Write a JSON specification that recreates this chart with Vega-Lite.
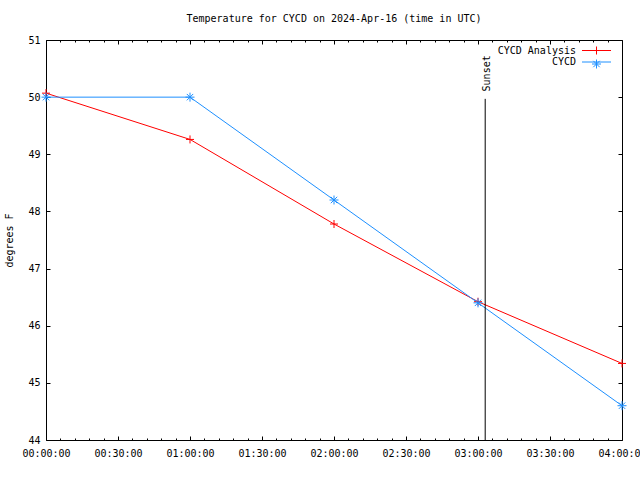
{
  "$schema": "https://vega.github.io/schema/vega-lite/v6.json",
  "width": 576,
  "height": 400,
  "autosize": {"type": "none"},
  "padding": {"left": 46, "top": 40, "right": 18, "bottom": 40},
  "background": "white",
  "title": {"text": "Temperature for CYCD on 2024-Apr-16 (time in UTC)", "fontSize": 10, "fontWeight": "normal", "font": "DejaVu Sans Mono", "anchor": "middle", "offset": 11, "color": "black"},
  "config": {
    "font": "DejaVu Sans Mono",
    "view": {"stroke": "black", "strokeWidth": 1},
    "axis": {"domain": false, "grid": false, "ticks": true, "labelFont": "DejaVu Sans Mono", "labelFontSize": 10, "labelColor": "black", "tickColor": "black", "tickWidth": 1, "tickOpacity": 1, "titleFont": "DejaVu Sans Mono", "titleFontSize": 10, "titleFontWeight": "normal", "titleColor": "black"}
  },
  "data": {"values": [
    {"series": "CYCD Analysis", "time": "2024-04-16T00:00:00", "temp": 50.07},
    {"series": "CYCD Analysis", "time": "2024-04-16T01:00:00", "temp": 49.26},
    {"series": "CYCD Analysis", "time": "2024-04-16T02:00:00", "temp": 47.78},
    {"series": "CYCD Analysis", "time": "2024-04-16T03:00:00", "temp": 46.42},
    {"series": "CYCD Analysis", "time": "2024-04-16T04:00:00", "temp": 45.34},
    {"series": "CYCD", "time": "2024-04-16T00:00:00", "temp": 50.0},
    {"series": "CYCD", "time": "2024-04-16T01:00:00", "temp": 50.0},
    {"series": "CYCD", "time": "2024-04-16T02:00:00", "temp": 48.2},
    {"series": "CYCD", "time": "2024-04-16T03:00:00", "temp": 46.4},
    {"series": "CYCD", "time": "2024-04-16T04:00:00", "temp": 44.6}
  ]},
  "resolve": {"axis": {"x": "independent", "y": "independent"}},
  "layer": [
    {
      "mark": {"type": "line", "strokeWidth": 1},
      "encoding": {
        "x": {"field": "time", "type": "temporal",
              "scale": {"domain": [{"year": 2024, "month": 4, "date": 16, "hours": 0}, {"year": 2024, "month": 4, "date": 16, "hours": 4}]},
              "axis": {"orient": "bottom", "title": null, "format": "%H:%M:%S",
                       "values": [
                         {"year": 2024, "month": 4, "date": 16, "hours": 0, "minutes": 0},
                         {"year": 2024, "month": 4, "date": 16, "hours": 0, "minutes": 30},
                         {"year": 2024, "month": 4, "date": 16, "hours": 1, "minutes": 0},
                         {"year": 2024, "month": 4, "date": 16, "hours": 1, "minutes": 30},
                         {"year": 2024, "month": 4, "date": 16, "hours": 2, "minutes": 0},
                         {"year": 2024, "month": 4, "date": 16, "hours": 2, "minutes": 30},
                         {"year": 2024, "month": 4, "date": 16, "hours": 3, "minutes": 0},
                         {"year": 2024, "month": 4, "date": 16, "hours": 3, "minutes": 30},
                         {"year": 2024, "month": 4, "date": 16, "hours": 4, "minutes": 0}
                       ],
                       "offset": -4, "tickSize": 4, "labelPadding": 8, "labelFlush": false, "labelOverlap": false}},
        "y": {"field": "temp", "type": "quantitative", "scale": {"domain": [44, 51], "nice": false, "zero": false},
              "axis": {"orient": "left", "title": "degrees F", "values": [44, 45, 46, 47, 48, 49, 50, 51], "offset": -4, "tickSize": 4, "labelPadding": 6, "titlePadding": 13}},
        "stroke": {"field": "series", "type": "nominal", "sort": "descending",
                   "scale": {"range": ["#ff0000", "#1e90ff"]},
                   "legend": {"title": null, "orient": "none", "legendX": 545, "legendY": 5, "labelAlign": "right", "labelOffset": -26, "symbolType": "M-2.9,0L2.9,0", "symbolSize": 100, "symbolStrokeWidth": 1, "rowPadding": 0.5, "labelFontSize": 10, "labelFont": "DejaVu Sans Mono", "labelColor": "black", "padding": 0, "symbolOffset": 0}}
      }
    },
    {
      "mark": {"type": "point", "filled": false, "strokeWidth": 1, "size": 100, "opacity": 1},
      "encoding": {
        "x": {"field": "time", "type": "temporal",
              "axis": {"orient": "bottom", "title": null, "labels": false, "offset": -2, "tickSize": 2,
                       "values": [
                         {"year": 2024, "month": 4, "date": 16, "hours": 0, "minutes": 6},
                         {"year": 2024, "month": 4, "date": 16, "hours": 0, "minutes": 12},
                         {"year": 2024, "month": 4, "date": 16, "hours": 0, "minutes": 18},
                         {"year": 2024, "month": 4, "date": 16, "hours": 0, "minutes": 24},
                         {"year": 2024, "month": 4, "date": 16, "hours": 0, "minutes": 36},
                         {"year": 2024, "month": 4, "date": 16, "hours": 0, "minutes": 42},
                         {"year": 2024, "month": 4, "date": 16, "hours": 0, "minutes": 48},
                         {"year": 2024, "month": 4, "date": 16, "hours": 0, "minutes": 54},
                         {"year": 2024, "month": 4, "date": 16, "hours": 1, "minutes": 6},
                         {"year": 2024, "month": 4, "date": 16, "hours": 1, "minutes": 12},
                         {"year": 2024, "month": 4, "date": 16, "hours": 1, "minutes": 18},
                         {"year": 2024, "month": 4, "date": 16, "hours": 1, "minutes": 24},
                         {"year": 2024, "month": 4, "date": 16, "hours": 1, "minutes": 36},
                         {"year": 2024, "month": 4, "date": 16, "hours": 1, "minutes": 42},
                         {"year": 2024, "month": 4, "date": 16, "hours": 1, "minutes": 48},
                         {"year": 2024, "month": 4, "date": 16, "hours": 1, "minutes": 54},
                         {"year": 2024, "month": 4, "date": 16, "hours": 2, "minutes": 6},
                         {"year": 2024, "month": 4, "date": 16, "hours": 2, "minutes": 12},
                         {"year": 2024, "month": 4, "date": 16, "hours": 2, "minutes": 18},
                         {"year": 2024, "month": 4, "date": 16, "hours": 2, "minutes": 24},
                         {"year": 2024, "month": 4, "date": 16, "hours": 2, "minutes": 36},
                         {"year": 2024, "month": 4, "date": 16, "hours": 2, "minutes": 42},
                         {"year": 2024, "month": 4, "date": 16, "hours": 2, "minutes": 48},
                         {"year": 2024, "month": 4, "date": 16, "hours": 2, "minutes": 54},
                         {"year": 2024, "month": 4, "date": 16, "hours": 3, "minutes": 6},
                         {"year": 2024, "month": 4, "date": 16, "hours": 3, "minutes": 12},
                         {"year": 2024, "month": 4, "date": 16, "hours": 3, "minutes": 18},
                         {"year": 2024, "month": 4, "date": 16, "hours": 3, "minutes": 24},
                         {"year": 2024, "month": 4, "date": 16, "hours": 3, "minutes": 36},
                         {"year": 2024, "month": 4, "date": 16, "hours": 3, "minutes": 42},
                         {"year": 2024, "month": 4, "date": 16, "hours": 3, "minutes": 48},
                         {"year": 2024, "month": 4, "date": 16, "hours": 3, "minutes": 54}
                       ]}},
        "y": {"field": "temp", "type": "quantitative",
              "axis": {"orient": "right", "title": null, "labels": false, "values": [44, 45, 46, 47, 48, 49, 50, 51], "offset": -4, "tickSize": 4}},
        "color": {"field": "series", "type": "nominal",
                  "scale": {"domain": ["CYCD Analysis", "CYCD"], "range": ["#ff0000", "#1e90ff"]},
                  "legend": {"title": null, "orient": "none", "legendX": 545, "legendY": 5, "labelExpr": "''", "labelOpacity": 0, "symbolSize": 100, "symbolStrokeWidth": 1, "rowPadding": 0.5, "labelFontSize": 10, "labelFont": "DejaVu Sans Mono", "padding": 0, "symbolOffset": 0}},
        "shape": {"field": "series", "type": "nominal",
                  "scale": {"domain": ["CYCD Analysis", "CYCD"], "range": ["M-0.8,0L0.8,0M0,-0.8L0,0.8", "M-0.9,0L0.9,0M0,-0.9L0,0.9M-0.64,-0.64L0.64,0.64M-0.64,0.64L0.64,-0.64"]},
                  "legend": {"title": null, "orient": "none", "legendX": 545, "legendY": 5, "labelExpr": "''", "labelOpacity": 0, "symbolSize": 100, "symbolStrokeWidth": 1, "rowPadding": 0.5, "labelFontSize": 10, "labelFont": "DejaVu Sans Mono", "padding": 0, "symbolOffset": 0}}
      }
    },
    {
      "data": {"values": [{"event": "Sunset", "time": "2024-04-16T03:03:00"}]},
      "mark": {"type": "rule", "color": "black", "strokeWidth": 1},
      "encoding": {
        "x": {"field": "time", "type": "temporal",
              "axis": {"orient": "top", "title": null, "labels": false, "offset": -4, "tickSize": 4,
                       "values": [
                         {"year": 2024, "month": 4, "date": 16, "hours": 0, "minutes": 0},
                         {"year": 2024, "month": 4, "date": 16, "hours": 0, "minutes": 30},
                         {"year": 2024, "month": 4, "date": 16, "hours": 1, "minutes": 0},
                         {"year": 2024, "month": 4, "date": 16, "hours": 1, "minutes": 30},
                         {"year": 2024, "month": 4, "date": 16, "hours": 2, "minutes": 0},
                         {"year": 2024, "month": 4, "date": 16, "hours": 2, "minutes": 30},
                         {"year": 2024, "month": 4, "date": 16, "hours": 3, "minutes": 0},
                         {"year": 2024, "month": 4, "date": 16, "hours": 3, "minutes": 30},
                         {"year": 2024, "month": 4, "date": 16, "hours": 4, "minutes": 0}
                       ]}},
        "y": {"datum": 44, "type": "quantitative", "axis": null},
        "y2": {"datum": 49.97}
      }
    },
    {
      "data": {"values": [{"event": "Sunset", "time": "2024-04-16T03:03:00"}]},
      "mark": {"type": "text", "angle": 270, "align": "left", "baseline": "middle", "dy": 2, "fontSize": 10, "color": "black"},
      "encoding": {
        "x": {"field": "time", "type": "temporal",
              "axis": {"orient": "top", "title": null, "labels": false, "offset": -2, "tickSize": 2,
                       "values": [
                         {"year": 2024, "month": 4, "date": 16, "hours": 0, "minutes": 6},
                         {"year": 2024, "month": 4, "date": 16, "hours": 0, "minutes": 12},
                         {"year": 2024, "month": 4, "date": 16, "hours": 0, "minutes": 18},
                         {"year": 2024, "month": 4, "date": 16, "hours": 0, "minutes": 24},
                         {"year": 2024, "month": 4, "date": 16, "hours": 0, "minutes": 36},
                         {"year": 2024, "month": 4, "date": 16, "hours": 0, "minutes": 42},
                         {"year": 2024, "month": 4, "date": 16, "hours": 0, "minutes": 48},
                         {"year": 2024, "month": 4, "date": 16, "hours": 0, "minutes": 54},
                         {"year": 2024, "month": 4, "date": 16, "hours": 1, "minutes": 6},
                         {"year": 2024, "month": 4, "date": 16, "hours": 1, "minutes": 12},
                         {"year": 2024, "month": 4, "date": 16, "hours": 1, "minutes": 18},
                         {"year": 2024, "month": 4, "date": 16, "hours": 1, "minutes": 24},
                         {"year": 2024, "month": 4, "date": 16, "hours": 1, "minutes": 36},
                         {"year": 2024, "month": 4, "date": 16, "hours": 1, "minutes": 42},
                         {"year": 2024, "month": 4, "date": 16, "hours": 1, "minutes": 48},
                         {"year": 2024, "month": 4, "date": 16, "hours": 1, "minutes": 54},
                         {"year": 2024, "month": 4, "date": 16, "hours": 2, "minutes": 6},
                         {"year": 2024, "month": 4, "date": 16, "hours": 2, "minutes": 12},
                         {"year": 2024, "month": 4, "date": 16, "hours": 2, "minutes": 18},
                         {"year": 2024, "month": 4, "date": 16, "hours": 2, "minutes": 24},
                         {"year": 2024, "month": 4, "date": 16, "hours": 2, "minutes": 36},
                         {"year": 2024, "month": 4, "date": 16, "hours": 2, "minutes": 42},
                         {"year": 2024, "month": 4, "date": 16, "hours": 2, "minutes": 48},
                         {"year": 2024, "month": 4, "date": 16, "hours": 2, "minutes": 54},
                         {"year": 2024, "month": 4, "date": 16, "hours": 3, "minutes": 6},
                         {"year": 2024, "month": 4, "date": 16, "hours": 3, "minutes": 12},
                         {"year": 2024, "month": 4, "date": 16, "hours": 3, "minutes": 18},
                         {"year": 2024, "month": 4, "date": 16, "hours": 3, "minutes": 24},
                         {"year": 2024, "month": 4, "date": 16, "hours": 3, "minutes": 36},
                         {"year": 2024, "month": 4, "date": 16, "hours": 3, "minutes": 42},
                         {"year": 2024, "month": 4, "date": 16, "hours": 3, "minutes": 48},
                         {"year": 2024, "month": 4, "date": 16, "hours": 3, "minutes": 54}
                       ]}},
        "y": {"datum": 50.1, "type": "quantitative", "axis": null},
        "text": {"field": "event"}
      }
    }
  ]
}
